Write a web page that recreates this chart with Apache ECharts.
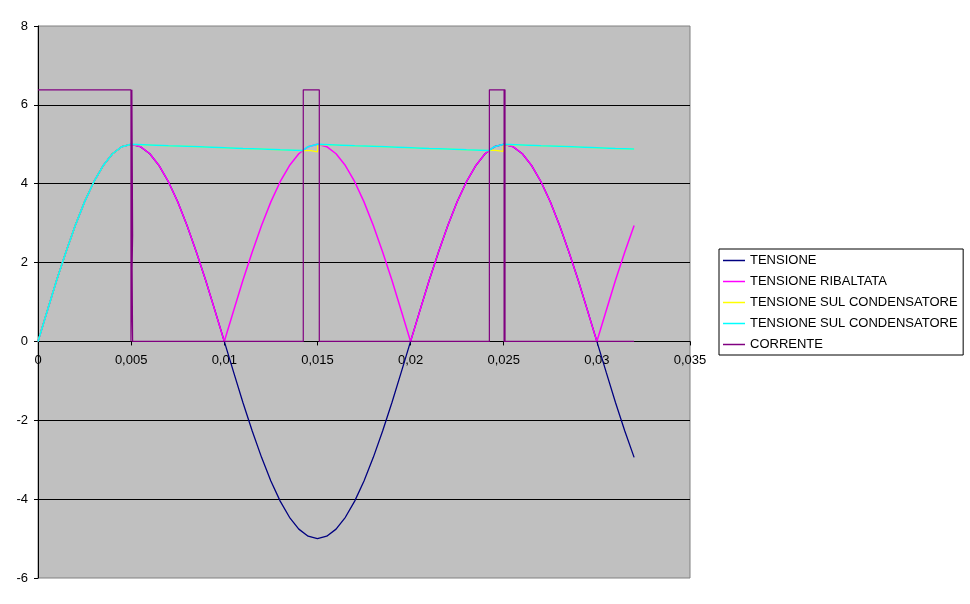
<!DOCTYPE html>
<html>
<head>
<meta charset="utf-8">
<script src="https://cdn.jsdelivr.net/npm/echarts@6/dist/echarts.min.js"></script>
<style>
html,body{margin:0;padding:0;background:#fff;}
#chart{width:970px;height:604px;}
</style>
</head>
<body>
<div id="chart"></div>
<script>
// ---- data ----
var seriesNames = ['TENSIONE', 'TENSIONE RIBALTATA', 'TENSIONE SUL CONDENSATORE', 'TENSIONE SUL CONDENSATORE ', 'CORRENTE'];

var tempo = [0,0.0005,0.001,0.0015,0.002,0.0025,0.003,0.0035,0.004,0.0045,
  0.005,0.0055,0.006,0.0065,0.007,0.0075,0.008,0.0085,0.009,0.0095,
  0.01,0.0105,0.011,0.0115,0.012,0.0125,0.013,0.0135,0.014,0.0145,
  0.015,0.0155,0.016,0.0165,0.017,0.0175,0.018,0.0185,0.019,0.0195,
  0.02,0.0205,0.021,0.0215,0.022,0.0225,0.023,0.0235,0.024,0.0245,
  0.025,0.0255,0.026,0.0265,0.027,0.0275,0.028,0.0285,0.029,0.0295,
  0.03,0.0305,0.031,0.0315,0.032];

var tensione = [0,0.78,1.55,2.27,2.94,3.54,4.05,4.46,4.76,4.94,
  5,4.94,4.76,4.46,4.05,3.54,2.94,2.27,1.55,0.78,
  0,-0.78,-1.55,-2.27,-2.94,-3.54,-4.05,-4.46,-4.76,-4.94,
  -5,-4.94,-4.76,-4.46,-4.05,-3.54,-2.94,-2.27,-1.55,-0.78,
  0,0.78,1.55,2.27,2.94,3.54,4.05,4.46,4.76,4.94,
  5,4.94,4.76,4.46,4.05,3.54,2.94,2.27,1.55,0.78,
  0,-0.78,-1.55,-2.27,-2.94];

var tensioneRibaltata = [0,0.78,1.55,2.27,2.94,3.54,4.05,4.46,4.76,4.94,
  5,4.94,4.76,4.46,4.05,3.54,2.94,2.27,1.55,0.78,
  0,0.78,1.55,2.27,2.94,3.54,4.05,4.46,4.76,4.94,
  5,4.94,4.76,4.46,4.05,3.54,2.94,2.27,1.55,0.78,
  0,0.78,1.55,2.27,2.94,3.54,4.05,4.46,4.76,4.94,
  5,4.94,4.76,4.46,4.05,3.54,2.94,2.27,1.55,0.78,
  0,0.78,1.55,2.27,2.94];

// capacitor voltage (cyan)
var tempoCond = [0,0.0005,0.001,0.0015,0.002,0.0025,0.003,0.0035,0.004,0.0045,0.005,
  0.006,0.007,0.008,0.009,0.01,0.011,0.012,0.013,0.0142,
  0.0145,0.015,
  0.016,0.017,0.018,0.019,0.02,0.021,0.022,0.023,0.0242,
  0.0245,0.025,
  0.026,0.027,0.028,0.029,0.03,0.031,0.032];
var tensioneCond = [0,0.78,1.55,2.27,2.94,3.54,4.05,4.46,4.76,4.94,5,
  4.98,4.96,4.95,4.93,4.91,4.89,4.88,4.86,4.84,
  4.94,5,
  4.98,4.96,4.95,4.93,4.91,4.89,4.88,4.86,4.84,
  4.94,5,
  4.98,4.96,4.95,4.93,4.91,4.89,4.88];

// capacitor voltage, coarser version (yellow)
var tempoCondY = [0,0.0005,0.001,0.0015,0.002,0.0025,0.003,0.0035,0.004,0.0045,0.005,
  0.006,0.007,0.008,0.009,0.01,0.011,0.012,0.013,0.0142,
  0.01464,0.01464,0.01501,0.01501,
  0.016,0.017,0.018,0.019,0.02,0.021,0.022,0.023,0.0242,
  0.02445,0.02445,0.02498,0.02498,
  0.026,0.027,0.028,0.029,0.03,0.031,0.032];
var tensioneCondY = [0,0.78,1.55,2.27,2.94,3.54,4.05,4.46,4.76,4.94,5,
  4.98,4.96,4.95,4.93,4.91,4.89,4.88,4.86,4.84,
  4.84,4.81,4.81,4.99,
  4.98,4.96,4.95,4.93,4.91,4.89,4.88,4.86,4.84,
  4.85,4.82,4.82,4.99,
  4.98,4.96,4.95,4.93,4.91,4.89,4.88];

// current pulses (purple)
var tempoCorr = [0,0.00499,0.00499,0.00508,0.00508,0.00504,0.00504,0.00504,0.00508,0.00508,
  0.01424,0.01424,0.0151,0.0151,
  0.02423,0.02423,0.02507,0.02507,0.02502,0.02502,0.02502,0.032];
var corrente = [6.38,6.38,0,0,2.7,2.7,6.38,2.7,2.7,0,
  0,6.38,6.38,0,
  0,6.38,6.38,0,0,6.38,0,0];

var xTicks = {min: 0, max: 0.035, interval: 0.005};
var yTicks = {min: -6, max: 8, interval: 2};

function pairs(xs, ys) {
  var out = [];
  for (var i = 0; i < xs.length; i++) out.push([xs[i], ys[i]]);
  return out;
}

var FONT = 'Liberation Sans, Arial, sans-serif';
var GRID_TOP = 26, GRID_BOTTOM = 26, H = 604;
// place the x axis on y = 0 (Excel style): offset from the bottom edge
var plotH = H - GRID_TOP - GRID_BOTTOM;
var zeroOffset = -plotH * (0 - yTicks.min) / (yTicks.max - yTicks.min);

var chart = echarts.init(document.getElementById('chart'), null, {renderer: 'canvas'});

function lineSeries(name, data, color, width) {
  return {
    name: name,
    type: 'line',
    data: data,
    symbol: 'none',
    showSymbol: false,
    smooth: false,
    silent: true,
    lineStyle: {color: color, width: width},
    itemStyle: {color: color},
    emphasis: {disabled: true}
  };
}

chart.setOption({
  animation: false,
  backgroundColor: '#ffffff',
  grid: {
    left: 38, top: GRID_TOP, right: 280, bottom: GRID_BOTTOM,
    show: true,
    backgroundColor: '#C0C0C0',
    borderColor: '#808080',
    borderWidth: 1,
    containLabel: false,
    outerBoundsMode: 'none'
  },
  legend: {
    orient: 'vertical',
    left: 719, top: 249,
    padding: [5, 2, 4, 4],
    icon: 'rect',
    itemWidth: 22, itemHeight: 1.5, itemGap: 8,
    backgroundColor: '#ffffff',
    borderColor: '#000000',
    borderWidth: 1,
    borderRadius: 0,
    selectedMode: false,
    textStyle: {fontFamily: FONT, fontSize: 13, color: '#000'},
    data: seriesNames.map(function (n) { return {name: n}; })
  },
  xAxis: {
    type: 'value',
    min: xTicks.min, max: xTicks.max, interval: xTicks.interval,
    offset: zeroOffset,
    axisLine: {show: true, onZero: false, lineStyle: {color: '#000', width: 1}},
    axisTick: {show: true, inside: false, length: 4, lineStyle: {color: '#000'}},
    axisLabel: {
      margin: 12, fontFamily: FONT, fontSize: 13, color: '#000',
      hideOverlap: false, showMinLabel: true, showMaxLabel: true,
      formatter: function (v) { return String(Number(v.toFixed(3))).replace('.', ','); }
    },
    splitLine: {show: false}
  },
  yAxis: {
    type: 'value',
    min: yTicks.min, max: yTicks.max, interval: yTicks.interval,
    axisLine: {show: true, onZero: false, lineStyle: {color: '#000', width: 1}},
    axisTick: {show: true, inside: false, length: 4, lineStyle: {color: '#000'}},
    axisLabel: {margin: 10, fontFamily: FONT, fontSize: 13, color: '#000', showMinLabel: true, showMaxLabel: true},
    splitLine: {show: true, showMinLine: false, showMaxLine: false, lineStyle: {color: '#000', width: 1}}
  },
  series: [
    lineSeries(seriesNames[0], pairs(tempo, tensione), '#000080', 1.3),
    lineSeries(seriesNames[1], pairs(tempo, tensioneRibaltata), '#FF00FF', 1.5),
    lineSeries(seriesNames[2], pairs(tempoCondY, tensioneCondY), '#FFFF00', 1.3),
    lineSeries(seriesNames[3], pairs(tempoCond, tensioneCond), '#00FFFF', 1.5),
    lineSeries(seriesNames[4], pairs(tempoCorr, corrente), '#800080', 1.2)
  ]
});
</script>
</body>
</html>
